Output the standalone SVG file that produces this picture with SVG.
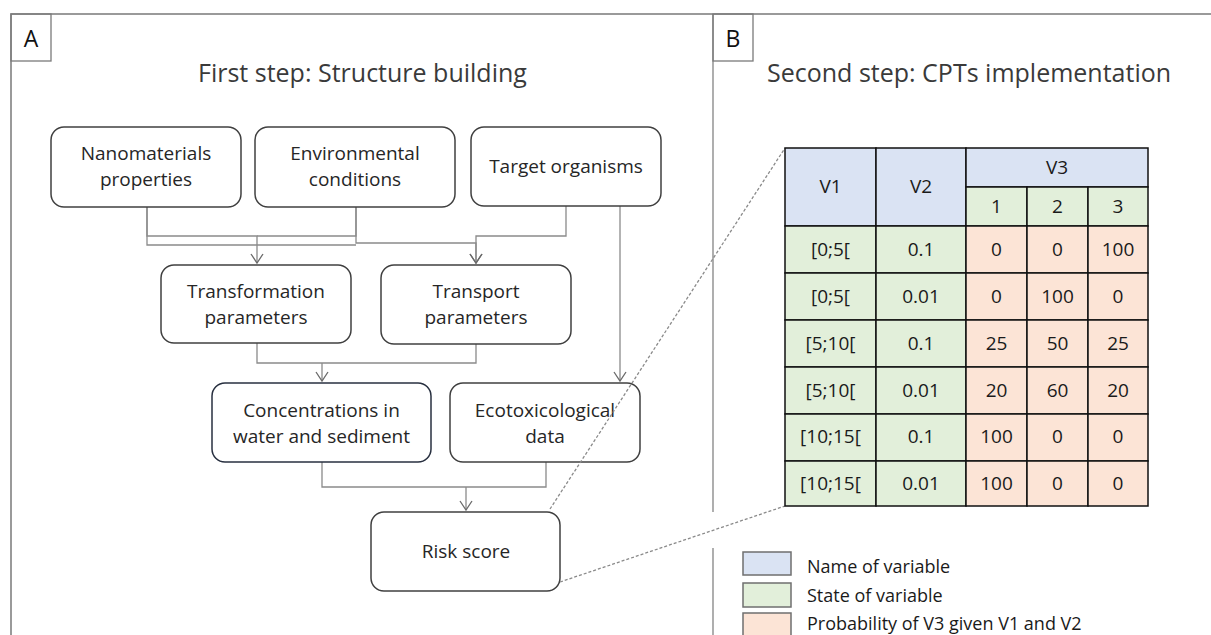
<svg xmlns="http://www.w3.org/2000/svg" width="1211" height="635" viewBox="0 0 1211 635">
<defs>
<style>
.frame{fill:none;stroke:#7a7a7a;stroke-width:1.5}
.node rect{fill:#fff;stroke:#404040;stroke-width:1.5}
.node text,.t{font-family:"Open Sans","Noto Sans",sans-serif;font-size:19px;fill:#262626;text-anchor:middle}
.title{font-family:"Open Sans","Noto Sans",sans-serif;font-size:25px;fill:#3a3a3a}
.lbl{font-family:"Open Sans","Noto Sans",sans-serif;font-size:23px;fill:#111;text-anchor:middle}
.conn path{fill:none;stroke:#8a8a8a;stroke-width:1.3}
.dot{fill:none;stroke:#777;stroke-width:1;stroke-dasharray:3 2}
.cb{fill:#dae3f3;stroke:#111;stroke-width:1.5}
.cg{fill:#e2efda;stroke:#111;stroke-width:1.5}
.co{fill:#fce4d6;stroke:#111;stroke-width:1.5}
.tt{font-family:"Open Sans","Noto Sans",sans-serif;font-size:19px;fill:#1a1a1a;text-anchor:middle}
.lg{stroke:#6f6f6f;stroke-width:1.5}
.lt{font-family:"Open Sans","Noto Sans",sans-serif;font-size:18px;fill:#1a1a1a}
</style>
<marker id="arr" markerWidth="14" markerHeight="12" refX="7" refY="10" orient="0" markerUnits="userSpaceOnUse" viewBox="0 0 14 12">
<path d="M1,1 L7,10 L13,1" fill="none" stroke="#6a6a6a" stroke-width="1.3"/>
</marker>
</defs>
<rect width="1211" height="635" fill="#fff"/>

<g id="frame">
<path class="frame" d="M11,635 V14 H1211"/>
<path class="frame" d="M713,14 V512 M713,548 V635" style="stroke-width:1.2"/>
<rect class="frame" x="11" y="14" width="40" height="47" style="stroke-width:1.3"/>
<rect class="frame" x="713" y="14" width="40" height="47" style="stroke-width:1.3"/>
<text class="lbl" x="31" y="47">A</text>
<text class="lbl" x="733" y="47">B</text>
<text class="title" x="198" y="82">First step: Structure building</text>
<text class="title" x="767" y="82">Second step: CPTs implementation</text>
</g>

<g id="connectors" class="conn">
<path d="M147,207 V236 H257 V263" marker-end="url(#arr)"/>
<path d="M356,207 V236 H257"/>
<path d="M147,207 V245 H356"/>
<path d="M356,207 V243 H476 V263" marker-end="url(#arr)"/>
<path d="M566,206 V236 H476 V263" marker-end="url(#arr)"/>
<path d="M620,206 V381" marker-end="url(#arr)"/>
<path d="M257,343 V363 H476 V344"/>
<path d="M322,363 V381" marker-end="url(#arr)"/>
<path d="M322,462 V487 H546 V462"/>
<path d="M466,487 V510" marker-end="url(#arr)"/>
</g>

<g id="n-nano" class="node">
<rect x="51" y="127" width="190" height="80" rx="13"/>
<text x="146" y="160">Nanomaterials</text>
<text x="146" y="186">properties</text>
</g>
<g id="n-env" class="node">
<rect x="255" y="127" width="200" height="80" rx="13"/>
<text x="355" y="160">Environmental</text>
<text x="355" y="186">conditions</text>
</g>
<g id="n-target" class="node">
<rect x="471" y="127" width="190" height="79" rx="13"/>
<text x="566" y="173">Target organisms</text>
</g>
<g id="n-transf" class="node">
<rect x="161" y="265" width="190" height="78" rx="13"/>
<text x="256" y="298">Transformation</text>
<text x="256" y="324">parameters</text>
</g>
<g id="n-transp" class="node">
<rect x="381" y="265" width="190" height="79" rx="13"/>
<text x="476" y="298">Transport</text>
<text x="476" y="324">parameters</text>
</g>
<g id="n-conc" class="node">
<rect x="212" y="383" width="219" height="79" rx="13" style="stroke:#283040"/>
<text x="321.5" y="417">Concentrations in</text>
<text x="321.5" y="443">water and sediment</text>
</g>
<g id="n-ecotox" class="node">
<rect x="450" y="383" width="190" height="79" rx="13"/>
<text x="545" y="417">Ecotoxicological</text>
<text x="545" y="443">data</text>
</g>
<g id="n-risk" class="node">
<rect x="371" y="512" width="189" height="79" rx="13"/>
<text x="466" y="558">Risk score</text>
</g>

<g id="zoom-lines" class="conn">
<path class="dot" d="M550,509 L785,148"/>
<path class="dot" d="M560,582 L785,506"/>
</g>

<g id="cpt-table">
<rect class="cb" x="785" y="148" width="91" height="78"/>
<rect class="cb" x="876" y="148" width="90" height="78"/>
<rect class="cb" x="966" y="148" width="182" height="39"/>
<rect class="cg" x="966" y="187" width="61" height="39"/>
<rect class="cg" x="1027" y="187" width="61" height="39"/>
<rect class="cg" x="1088" y="187" width="60" height="39"/>
<g>
<rect class="cg" x="785" y="226" width="91" height="47"/><rect class="cg" x="876" y="226" width="90" height="47"/>
<rect class="co" x="966" y="226" width="61" height="47"/><rect class="co" x="1027" y="226" width="61" height="47"/><rect class="co" x="1088" y="226" width="60" height="47"/>
<rect class="cg" x="785" y="273" width="91" height="47"/><rect class="cg" x="876" y="273" width="90" height="47"/>
<rect class="co" x="966" y="273" width="61" height="47"/><rect class="co" x="1027" y="273" width="61" height="47"/><rect class="co" x="1088" y="273" width="60" height="47"/>
<rect class="cg" x="785" y="320" width="91" height="47"/><rect class="cg" x="876" y="320" width="90" height="47"/>
<rect class="co" x="966" y="320" width="61" height="47"/><rect class="co" x="1027" y="320" width="61" height="47"/><rect class="co" x="1088" y="320" width="60" height="47"/>
<rect class="cg" x="785" y="367" width="91" height="47"/><rect class="cg" x="876" y="367" width="90" height="47"/>
<rect class="co" x="966" y="367" width="61" height="47"/><rect class="co" x="1027" y="367" width="61" height="47"/><rect class="co" x="1088" y="367" width="60" height="47"/>
<rect class="cg" x="785" y="414" width="91" height="47"/><rect class="cg" x="876" y="414" width="90" height="47"/>
<rect class="co" x="966" y="414" width="61" height="47"/><rect class="co" x="1027" y="414" width="61" height="47"/><rect class="co" x="1088" y="414" width="60" height="47"/>
<rect class="cg" x="785" y="461" width="91" height="45"/><rect class="cg" x="876" y="461" width="90" height="45"/>
<rect class="co" x="966" y="461" width="61" height="45"/><rect class="co" x="1027" y="461" width="61" height="45"/><rect class="co" x="1088" y="461" width="60" height="45"/>
</g>
<text class="tt" x="830.5" y="193">V1</text>
<text class="tt" x="921" y="193">V2</text>
<text class="tt" x="1057" y="174">V3</text>
<text class="tt" x="996.5" y="213">1</text><text class="tt" x="1057.5" y="213">2</text><text class="tt" x="1118" y="213">3</text>
<text class="tt" x="830.5" y="256">[0;5[</text><text class="tt" x="921" y="256">0.1</text><text class="tt" x="996.5" y="256">0</text><text class="tt" x="1057.5" y="256">0</text><text class="tt" x="1118" y="256">100</text>
<text class="tt" x="830.5" y="303">[0;5[</text><text class="tt" x="921" y="303">0.01</text><text class="tt" x="996.5" y="303">0</text><text class="tt" x="1057.5" y="303">100</text><text class="tt" x="1118" y="303">0</text>
<text class="tt" x="830.5" y="350">[5;10[</text><text class="tt" x="921" y="350">0.1</text><text class="tt" x="996.5" y="350">25</text><text class="tt" x="1057.5" y="350">50</text><text class="tt" x="1118" y="350">25</text>
<text class="tt" x="830.5" y="397">[5;10[</text><text class="tt" x="921" y="397">0.01</text><text class="tt" x="996.5" y="397">20</text><text class="tt" x="1057.5" y="397">60</text><text class="tt" x="1118" y="397">20</text>
<text class="tt" x="830.5" y="443">[10;15[</text><text class="tt" x="921" y="443">0.1</text><text class="tt" x="996.5" y="443">100</text><text class="tt" x="1057.5" y="443">0</text><text class="tt" x="1118" y="443">0</text>
<text class="tt" x="830.5" y="490">[10;15[</text><text class="tt" x="921" y="490">0.01</text><text class="tt" x="996.5" y="490">100</text><text class="tt" x="1057.5" y="490">0</text><text class="tt" x="1118" y="490">0</text>
</g>

<g id="legend">
<rect class="lg" x="743" y="552" width="48" height="23" fill="#dae3f3"/>
<rect class="lg" x="743" y="583" width="48" height="24" fill="#e2efda"/>
<rect class="lg" x="743" y="613" width="48" height="30" fill="#fce4d6"/>
<text class="lt" x="807" y="573">Name of variable</text>
<text class="lt" x="807" y="602">State of variable</text>
<text class="lt" x="807" y="630">Probability of V3 given V1 and V2</text>
</g>
</svg>
